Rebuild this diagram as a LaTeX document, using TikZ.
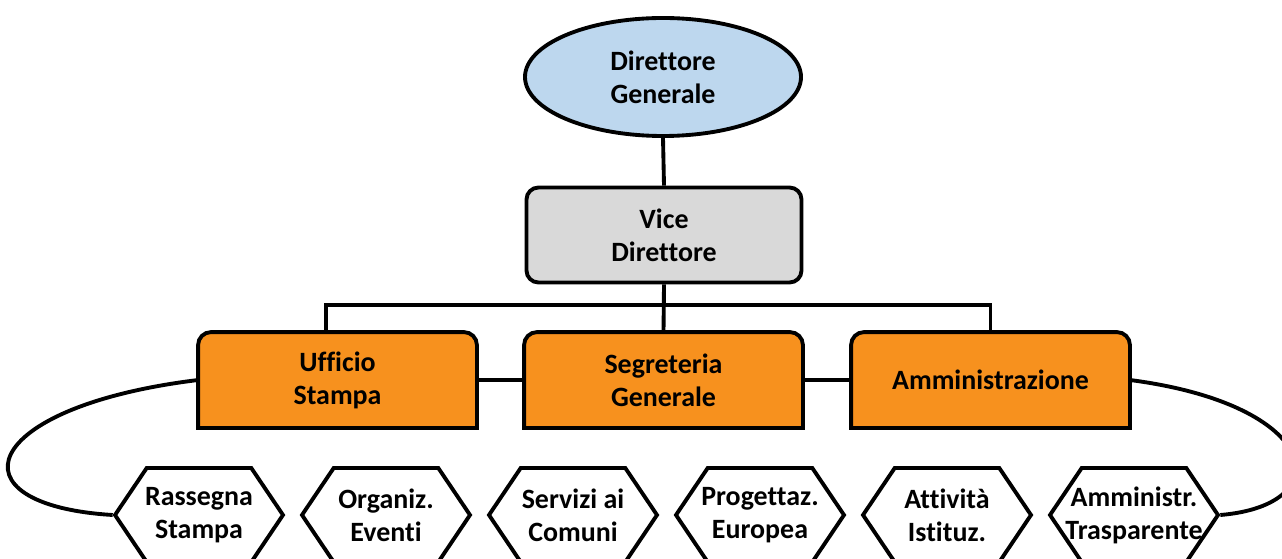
\documentclass[tikz,border=0pt]{standalone}
\usepackage{fontspec}
\setmainfont{Carlito}[Ligatures=NoCommon]
\usepackage{tikz}
\usetikzlibrary{shapes.geometric,shapes.symbols,backgrounds}
\definecolor{dgblue}{RGB}{189,215,238}
\definecolor{vdgrey}{RGB}{217,217,217}
\definecolor{uforange}{RGB}{247,145,30}

\tikzset{
  lbl/.style={font=\bfseries\fontsize{15.9}{18.7}\selectfont, align=center},
  dgnode/.style={lbl, ellipse, draw, fill=dgblue, minimum width=5.52cm, minimum height=2.36cm, inner sep=0pt},
  vdnode/.style={lbl, rectangle, draw, fill=vdgrey, rounded corners=6.8pt, minimum width=5.5cm, minimum height=1.9cm},
  ufnode/.style={lbl, rectangle, minimum width=5.5cm, minimum height=1.84cm},
  attnode/.style={lbl, signal, signal to=west and east, signal pointer angle=112, draw, fill=white, minimum width=3.36cm, minimum height=1.88cm, inner ysep=0pt, inner xsep=-1.5cm}
}

\begin{document}
\begin{tikzpicture}[line width=2.2pt]
\useasboundingbox (0,0) rectangle (25.64,-11.18);
%%Vertici
\node[dgnode] (dg) at (13.26,-1.54) {Direttore\\Generale};
\node[vdnode] (vd) at (13.28,-4.7) {Vice\\Direttore};

%%Uffici
\node[ufnode] (us) at (6.75,-7.6) {Ufficio\\Stampa};
\node[ufnode] (sg) at (13.27,-7.6) {Segreteria\\Generale};
\node[ufnode] (am) at (19.81,-7.6) {Amministrazione};
\begin{scope}[on background layer]
\foreach \u in {us,sg,am}
  \draw[line width=2.2pt, fill=uforange] (\u.south west) -- ([yshift=-0.26cm]\u.north west) arc[start angle=180, end angle=90, radius=0.26cm]
    -- ([xshift=-0.26cm]\u.north east) arc[start angle=90, end angle=0, radius=0.26cm] -- (\u.south east) -- cycle;
\end{scope}

%%Attivita
\node[attnode] (rs) at (3.98,-10.3) {Rassegna\\Stampa};
\node[attnode] (oe) at (7.72,-10.3) {Organiz.\\Eventi};
\node[attnode] (sc) at (11.46,-10.3) {Servizi ai\\Comuni};
\node[attnode] (pe) at (15.2,-10.3) {Progettaz.\\Europea};
\node[attnode] (ai) at (18.94,-10.3) {Attività\\Istituz.};
\node[attnode] (at) at (22.68,-10.3) {Amministr.\\Trasparente};

%%Collegamenti
\coordinate (busL) at (6.52,-6.1);
\draw (dg.south) -- (vd.north);
\draw (vd.south) -- (sg.north);
\draw (us.north -| busL) -- (busL) -| (am.north);
\draw (us.east) -- (sg.west);
\draw (sg.east) -- (am.west);
\draw (us.west) .. controls +(-4.4,-0.54) and +(-3.3,0.2) .. (rs.west);
\draw (am.east) .. controls +(3.84,-0.5) and +(2.4,0.2) .. (at.east);

\end{tikzpicture}
\end{document}
